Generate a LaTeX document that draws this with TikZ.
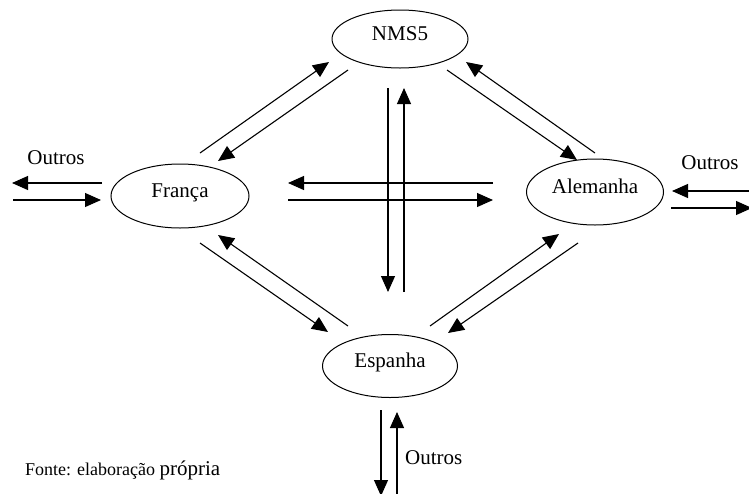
\documentclass[tikz,border=0pt]{standalone}
\usepackage{fontspec}
\setmainfont{Liberation Serif}
\usetikzlibrary{shapes.geometric,arrows.meta}
\begin{document}
\begin{tikzpicture}[x=1pt,y=-1pt,
  country/.style={draw,ellipse,line width=1pt,inner sep=0pt,
    font=\fontsize{21}{24}\selectfont,text height=13pt,text depth=10pt},
  flow/.style={line width=1.1pt,-{Triangle[length=16pt,width=14pt]}},
  lbl/.style={font=\fontsize{21}{24}\selectfont,inner sep=0pt}]
\useasboundingbox (0,0) rectangle (749,493);

% countries
\node[country,minimum width=136pt,minimum height=58pt] (nms) at (400,39) {NMS5};
\node[country,minimum width=138pt,minimum height=64pt] (fra) at (180,196) {França};
\node[country,minimum width=137pt,minimum height=66pt] (ale) at (595,192) {Alemanha};
\node[country,minimum width=135pt,minimum height=63pt] (esp) at (390,366) {Espanha};

% end points of the flow arrows
\coordinate (fn1) at (200,153); \coordinate (fn2) at (329,62);
\coordinate (nf1) at (348,70);  \coordinate (nf2) at (218,161);
\coordinate (na1) at (447,70);  \coordinate (na2) at (577,160);
\coordinate (an1) at (595,153); \coordinate (an2) at (466,62);
\coordinate (fe1) at (200,243); \coordinate (fe2) at (328,332);
\coordinate (ef1) at (348,326); \coordinate (ef2) at (218,235);
\coordinate (ea1) at (430,326); \coordinate (ea2) at (559,234);
\coordinate (ae1) at (578,243); \coordinate (ae2) at (448,333);
\coordinate (af1) at (493,183); \coordinate (af2) at (288,183);
\coordinate (fa1) at (288,200); \coordinate (fa2) at (493,200);
\coordinate (ne1) at (388,88);  \coordinate (ne2) at (388,292);
\coordinate (en1) at (404,292); \coordinate (en2) at (404,88);
% links to the other countries
\coordinate (fo1) at (102,183); \coordinate (fo2) at (12,183);
\coordinate (of1) at (13,200);  \coordinate (of2) at (101,200);
\coordinate (ao1) at (752,191); \coordinate (ao2) at (672,191);
\coordinate (oa1) at (671,208); \coordinate (oa2) at (752,208);
\coordinate (eo1) at (381,410); \coordinate (eo2) at (381,496);
\coordinate (oe1) at (397,496); \coordinate (oe2) at (397,412);

\foreach \a/\b in {fn1/fn2,nf1/nf2,na1/na2,an1/an2,fe1/fe2,ef1/ef2,
  ea1/ea2,ae1/ae2,af1/af2,fa1/fa2,ne1/ne2,en1/en2,
  fo1/fo2,of1/of2,ao1/ao2,oa1/oa2,eo1/eo2,oe1/oe2}
  \draw[flow] (\a) -- (\b);

% labels
\node[lbl] (out1) at (56,158) {Outros};
\node[lbl] (out2) at (710,163) {Outros};
\node[lbl,anchor=west] (out3) at (405,458) {Outros};
\node[inner sep=0pt,anchor=base west] (src) at (25,475)
  {\fontsize{18}{22}\selectfont Fonte: elaboração \fontsize{21}{24}\selectfont própria};
\end{tikzpicture}
\end{document}
